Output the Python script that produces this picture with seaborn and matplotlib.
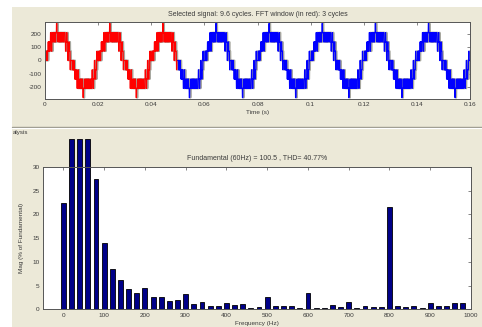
import numpy as np
import pandas as pd
import matplotlib
matplotlib.use("Agg")
import matplotlib.pyplot as plt
import seaborn as sns
from matplotlib.patches import Rectangle
from matplotlib.lines import Line2D

# ---- Harmonic spectrum (% of fundamental), one bar every 20 Hz ----
freq_hz = list(range(0, 1000, 20))
mag_pct = [22.5, 35.8, 35.8, 35.8, 27.5, 14.0, 8.5, 6.1, 4.3, 3.5,
           4.5, 2.6, 2.5, 1.8, 1.9, 3.3, 1.1, 1.5, 0.6, 0.7,
           1.3, 0.9, 1.05, 0.35, 0.5, 2.5, 0.6, 0.8, 0.65, 0.2,
           3.45, 0.35, 0.2, 0.85, 0.5, 1.6, 0.3, 0.65, 0.4, 0.5,
           21.5, 0.65, 0.5, 0.65, 0.3, 1.4, 0.8, 0.65, 1.4, 1.4]

# ---- Seven-level staircase output voltage ----
period_s = 0.02
step_v = 70
rise_ms = [0.5, 1.45, 2.6]          # level switching instants in the first quarter cycle
pulse_ms = [0.25, 0.8, 1.15, 1.7, 2.05, 2.4, 3.0, 3.4, 3.9, 4.3, 4.8, 5.3,
            5.8, 6.3, 6.9, 7.4, 7.7, 8.1, 8.6, 8.95, 9.4]
pulse_dv = [1, -1, 1, -1, 1, -1, -1, -1, -1, 1, -1, -1,
            -1, -1, -1, 1, -1, 1, -1, 1, -1]
pulse_w_ms = 0.14
fft_end_s = 0.05
t_end_s = 0.16

title_top = "Selected signal: 9.6 cycles. FFT window (in red): 3 cycles"
title_bot = "Fundamental (60Hz) = 100.5 , THD= 40.77%"

BEIGE = "#ece9d8"
TXT = "#3a3a3a"
FS_TITLE = 5.0
FS = 4.6

t = np.arange(0, t_end_s + 1e-9, 1e-5)
phase_ms = (t % period_s) * 1000.0
half = phase_ms % 10.0
quarter = np.where(half < 5.0, half, 10.0 - half)
level = np.zeros_like(t)
for r in rise_ms:
    level += (quarter >= r)
for s, d in zip(pulse_ms, pulse_dv):
    level[(half >= s) & (half < s + pulse_w_ms)] += d
sign = np.where(phase_ms < 10.0, 1.0, -1.0)
volts = sign * level * step_v

wave = pd.DataFrame({"t": t, "v": volts})
shadow = pd.DataFrame({"t": t + 0.0004, "v": volts})
win = wave[wave.t <= fft_end_s]
rest = wave[wave.t >= fft_end_s]

spec = pd.DataFrame({"f": freq_hz, "m": mag_pct})

sns.set_style("white")
plt.rcParams["font.family"] = ["Liberation Sans", "DejaVu Sans"]
plt.rcParams["axes.unicode_minus"] = False

W, H = 482, 327
fig = plt.figure(figsize=(W / 100, H / 100), dpi=100, facecolor="white")

# window background and separator between panels
fig.patches.append(Rectangle((12 / W, 0), 1, 1 - 7 / H, transform=fig.transFigure,
                             facecolor=BEIGE, edgecolor="none", zorder=-10))
fig.add_artist(Line2D([12 / W, 1], [1 - 126.5 / H] * 2, transform=fig.transFigure,
                      color="#9c9a8e", lw=1.0))
fig.add_artist(Line2D([12 / W, 1], [1 - 128 / H] * 2, transform=fig.transFigure,
                      color="#ffffff", lw=0.8))
fig.text(13 / W, 1 - 133 / H, "alysis", fontsize=4.4, color=TXT, va="center", ha="left")

# ---- time-domain panel ----
ax1 = fig.add_axes([45 / W, 1 - 99 / H, 425 / W, 77 / H])
ax1.set_facecolor("white")
sns.lineplot(data=shadow, x="t", y="v", ax=ax1, color="#a8a8a0", lw=1.3,
             estimator=None, sort=False, zorder=1)
sns.lineplot(data=win, x="t", y="v", ax=ax1, color="#ff0000", lw=0.9,
             estimator=None, sort=False, zorder=2)
sns.lineplot(data=rest, x="t", y="v", ax=ax1, color="#0000ff", lw=0.9,
             estimator=None, sort=False, zorder=2)
ax1.set_xlim(0, 0.16)
ax1.set_ylim(-290, 290)
ax1.set_xticks(np.arange(0, 0.161, 0.02))
ax1.set_xticklabels(["0", "0.02", "0.04", "0.06", "0.08", "0.1", "0.12", "0.14", "0.16"])
ax1.set_yticks([-200, -100, 0, 100, 200])
ax1.set_xlabel("Time (s)", fontsize=FS, color=TXT, labelpad=2)
ax1.set_ylabel("")
ax1.set_title(title_top, fontsize=FS_TITLE, color=TXT, pad=4)

# ---- spectrum panel ----
ax2 = fig.add_axes([43 / W, 1 - 309.3 / H, 428 / W, 142.3 / H])
ax2.set_facecolor("white")
sns.barplot(data=spec, x="f", y="m", ax=ax2, native_scale=True, width=0.6,
            color="#000088", edgecolor="#000000", linewidth=0.6, saturation=1)
for p in ax2.patches:
    p.set_clip_on(False)
ax2.set_xlim(-50, 1000)
ax2.set_ylim(0, 30)
ax2.set_xticks(np.arange(0, 1001, 100))
ax2.set_yticks(np.arange(0, 31, 5))
ax2.set_xlabel("Frequency (Hz)", fontsize=FS, color=TXT, labelpad=2.5)
ax2.set_ylabel("Mag (% of Fundamental)", fontsize=FS, color=TXT, labelpad=6)
ax2.set_title(title_bot, fontsize=FS_TITLE, color=TXT, pad=5)

for ax in (ax1, ax2):
    ax.tick_params(direction="in", top=True, right=True, length=2.5, width=0.5,
                   labelsize=FS, labelcolor=TXT, color="#555555", pad=2.5)
    for sp in ax.spines.values():
        sp.set_color("#555555")
        sp.set_linewidth(0.7)
        sp.set_visible(True)

fig.savefig("out.png", dpi=100, facecolor=fig.get_facecolor())
